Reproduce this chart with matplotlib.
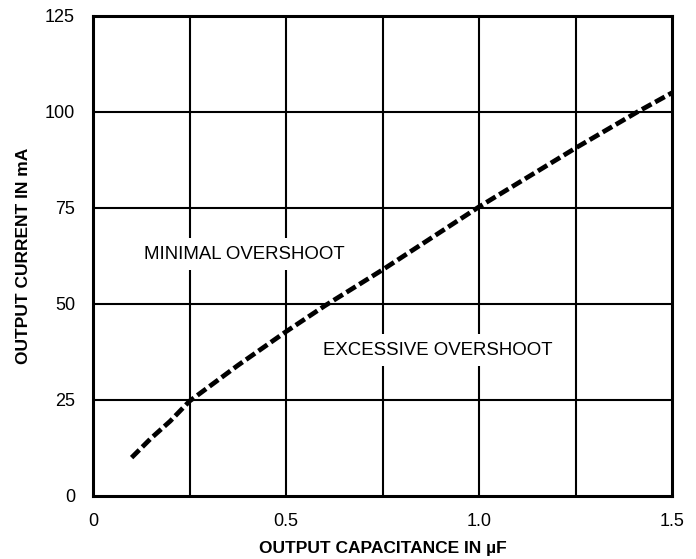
import matplotlib
matplotlib.use("Agg")
import matplotlib.pyplot as plt

plt.rcParams["font.family"] = ["Liberation Sans", "DejaVu Sans"]

# boundary curve
cap_uf = [0.10, 0.15, 0.20, 0.25, 0.375, 0.50, 0.60, 0.75, 1.00, 1.25, 1.41, 1.50]
current_ma = [10.0, 15.0, 19.5, 24.7, 34.0, 42.8, 49.5, 58.9, 75.3, 90.6, 100.0, 105.0]

x_ticks = [0, 0.5, 1.0, 1.5]
x_tick_labels = ["0", "0.5", "1.0", "1.5"]
x_grid = [0.25, 0.5, 0.75, 1.0, 1.25]
y_ticks = [0, 25, 50, 75, 100, 125]

fig = plt.figure(figsize=(6.96, 5.59), dpi=100)
ax = fig.add_axes([93 / 696, 1 - 496 / 559, (672 - 93) / 696, (496 - 16) / 559])

ax.set_xlim(0, 1.5)
ax.set_ylim(0, 125)

for gx in x_grid:
    ax.axvline(gx, color="black", lw=1.5, zorder=1)
for gy in y_ticks[1:-1]:
    ax.axhline(gy, color="black", lw=1.5, zorder=1)

ax.plot(cap_uf, current_ma, color="black", lw=3.4, linestyle=(0, (2.3, 0.9)),
        solid_capstyle="butt", zorder=3)

box = dict(boxstyle="square,pad=0.4", facecolor="white", edgecolor="none")
ax.text(0.132, 63, "MINIMAL OVERSHOOT", fontsize=13.4, va="center", ha="left",
        bbox=box, zorder=2)
ax.text(0.596, 38, "EXCESSIVE OVERSHOOT", fontsize=13.4, va="center", ha="left",
        bbox=box, zorder=2)

ax.set_xticks(x_ticks)
ax.set_xticklabels(x_tick_labels)
ax.set_yticks(y_ticks)
ax.tick_params(length=0, labelsize=13, pad=12)
ax.tick_params(axis="y", pad=13)

for sp in ax.spines.values():
    sp.set_linewidth(2.2)

ax.set_xlabel("OUTPUT CAPACITANCE IN \u00b5F", fontsize=12.5, fontweight="bold", labelpad=8)
ax.set_ylabel("OUTPUT CURRENT IN mA", fontsize=12.5, fontweight="bold", labelpad=10)

fig.savefig("out.png", dpi=100)
